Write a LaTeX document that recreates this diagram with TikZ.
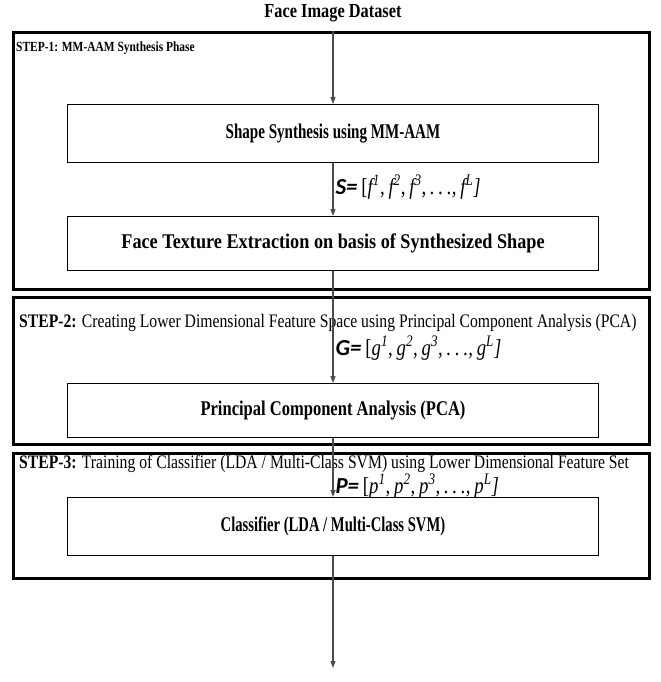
\documentclass[tikz,border=0pt]{standalone}
\usepackage{fontspec}
\setmainfont{Liberation Serif}[FakeStretch=0.82]
\newfontfamily\eqfont{Carlito}
\usetikzlibrary{arrows.meta,positioning}

% feature vector label: name, element
\newcommand{\featvec}[2]{{\eqfont\bfseries\itshape #1=}\,[\itshape #2\textsuperscript{1},\,#2\textsuperscript{2},\,#2\textsuperscript{3},\,.\,.\,.,\,#2\textsuperscript{L}]}
\newcommand{\fsz}[1]{\fontsize{#1}{#1}\selectfont}
\newcommand{\boxface}[1]{\fontspec{Liberation Serif}[FakeStretch=#1]\fsz{21}\bfseries}

\begin{document}
\begin{tikzpicture}[
  x=1bp, y=-1bp,
  stage/.style={draw, line width=2.6bp, minimum width=636bp, anchor=north west, inner sep=0pt},
  box/.style={draw, line width=1.2bp, minimum width=531bp, minimum height=56bp, anchor=north},
  steplbl/.style={anchor=west, inner sep=0pt, font=\fsz{19.2}},
  eq/.style={right, inner sep=0pt, xshift=2bp, font=\fsz{23}},
  arr/.style={-{Triangle[length=7bp,width=5bp]}, line width=1.1bp, draw=black!70}
]
\useasboundingbox (0,0) rectangle (661,682);

\node[font=\fsz{20}\bfseries] (title) at (333,13) {Face Image Dataset};

% the three stages
\node[stage, minimum height=257bp] (s1) at (12,31) {};
\node[stage, minimum height=147bp] (s2) at (12,296) {};
\node[stage, minimum height=125bp] (s3) at (12,452) {};

\node[steplbl] (l1) at (16,48) {\fsz{14}\bfseries STEP-1: MM-AAM Synthesis Phase};
\node[steplbl] (l2) at (19,323) {\textbf{STEP-2:} Creating Lower Dimensional Feature Space using Principal Component Analysis (PCA)};
\node[steplbl] (l3) at (19,464) {\textbf{STEP-3:} Training of Classifier (LDA / Multi-Class SVM) using Lower Dimensional Feature Set};

% processing blocks
\node[box, minimum height=58bp, font=\boxface{0.72}] (shape) at (333,104) {Shape Synthesis using MM-AAM};
\node[box, minimum height=54bp, font=\boxface{0.87}] (tex) at (333,216) {Face Texture Extraction on basis of Synthesized Shape};
\node[box, minimum height=54bp, font=\boxface{0.79}] (pca) at (333,383) {Principal Component Analysis (PCA)};
\node[box, minimum height=58bp, font=\boxface{0.70}] (clf) at (333,497) {Classifier (LDA / Multi-Class SVM)};

\coordinate (in) at (333,31);
\coordinate (out) at (333,668);

\draw[arr] (in) -- (shape);
\draw[arr] (shape) -- node[eq, pos=0.46]{\featvec{S}{f}} (tex);
\draw[arr] (tex) -- node[eq, pos=0.69]{\featvec{G}{g}} (pca);
\draw[arr] (pca) -- node[eq, pos=0.82]{\featvec{P}{p}} (clf);
\draw[arr] (clf) -- (out);
\end{tikzpicture}
\end{document}
